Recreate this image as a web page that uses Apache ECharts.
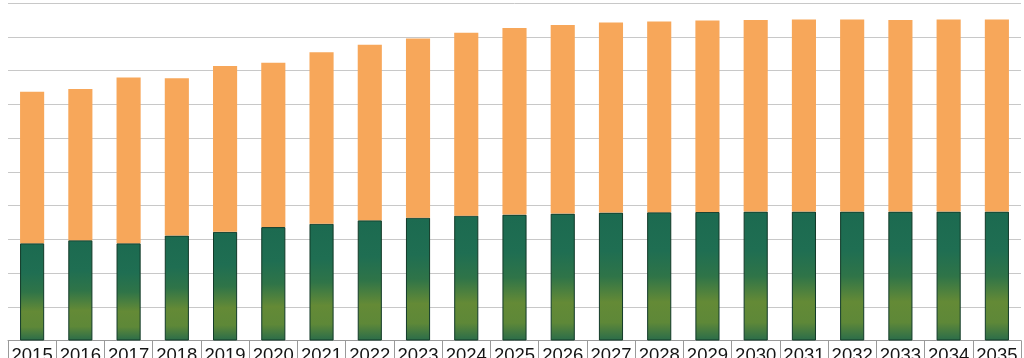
<!DOCTYPE html>
<html>
<head>
<meta charset="utf-8">
<script src="https://cdn.jsdelivr.net/npm/echarts@6/dist/echarts.min.js"></script>
<style>html,body{margin:0;padding:0;background:#fff;}#c{width:1024px;height:358px;}</style>
</head>
<body>
<div id="c"></div>
<script>
const years = ['2015','2016','2017','2018','2019','2020','2021','2022','2023','2024','2025','2026','2027','2028','2029','2030','2031','2032','2033','2034','2035'];
const greenValues = [2.88,2.97,2.88,3.11,3.22,3.36,3.46,3.56,3.64,3.70,3.73,3.76,3.79,3.80,3.81,3.82,3.82,3.82,3.82,3.82,3.82];
const totalValues = [7.37,7.45,7.79,7.77,8.13,8.23,8.54,8.76,8.95,9.12,9.26,9.35,9.42,9.45,9.48,9.50,9.51,9.51,9.50,9.51,9.51];
const orangeValues = totalValues.map((t,i)=>+(t-greenValues[i]).toFixed(2));

const chart = echarts.init(document.getElementById('c'));
chart.setOption({
  animation:false,
  grid:{left:8,right:3,top:3,bottom:17.5,containLabel:false,outerBoundsMode:'none'},
  xAxis:{
    type:'category',
    data:years,
    axisLine:{show:true,lineStyle:{color:'#9a9a9a',width:1}},
    axisTick:{show:true,interval:0,length:30,lineStyle:{color:'#9a9a9a',width:1}},
    axisLabel:{interval:0,hideOverlap:false,fontSize:18.5,color:'#151515',fontFamily:'Liberation Sans, Arial, sans-serif',margin:6}
  },
  yAxis:{
    type:'value',min:0,max:10,interval:1,
    axisLabel:{show:false},axisLine:{show:false},axisTick:{show:false},
    splitLine:{lineStyle:{color:'#c8c8c8',width:1}}
  },
  series:[
    {type:'bar',stack:'s',data:greenValues,barWidth:'50%',
     itemStyle:{borderColor:'#123a28',borderWidth:1,
       color:new echarts.graphic.LinearGradient(0,0,0,1,[
         {offset:0,color:'#1c6a50'},
         {offset:0.3,color:'#1f6e52'},
         {offset:0.5,color:'#2f7448'},
         {offset:0.7,color:'#648a36'},
         {offset:0.86,color:'#5e8838'},
         {offset:1,color:'#2a6c4a'}])}},
    {type:'bar',stack:'s',data:orangeValues,barWidth:'50%',
     itemStyle:{color:'#f7a75a'}}
  ]
});
</script>
</body>
</html>
